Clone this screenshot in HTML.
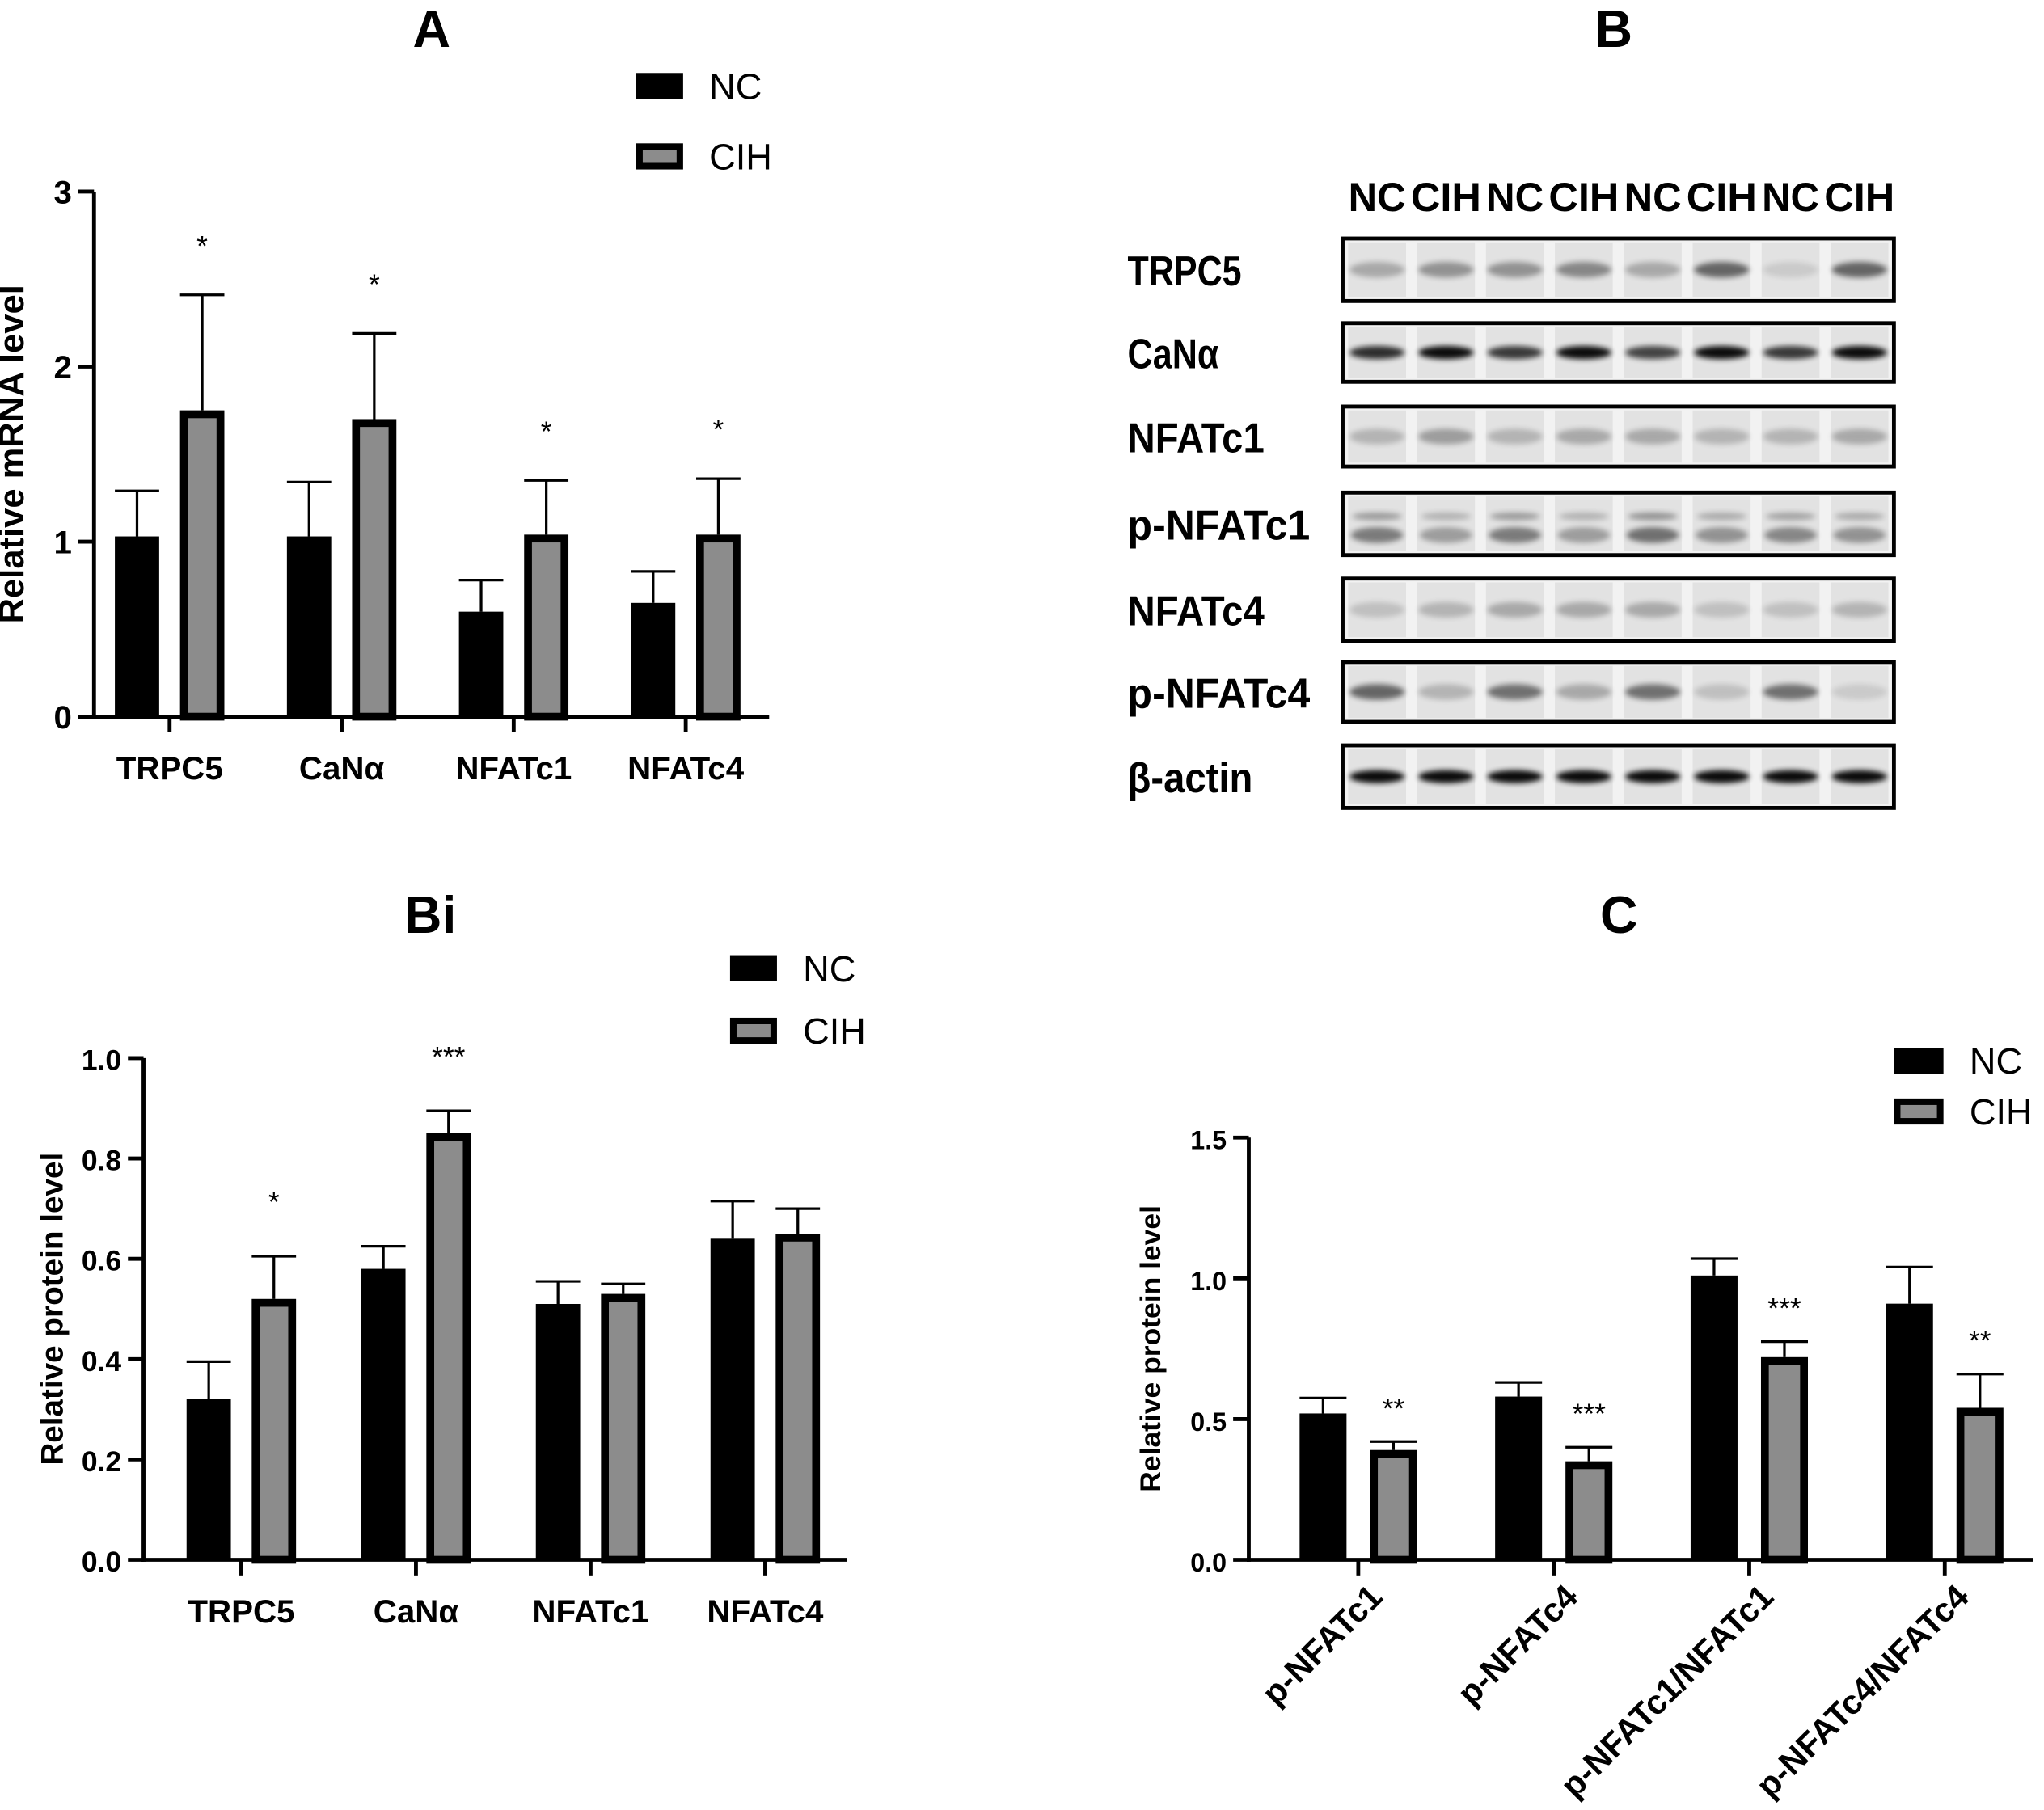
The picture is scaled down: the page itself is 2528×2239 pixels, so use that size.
<!DOCTYPE html>
<html><head><meta charset="utf-8">
<style>
html,body{margin:0;padding:0;background:#fff;}
svg{display:block;font-family:"Liberation Sans","Noto Sans CJK SC",sans-serif;}
</style></head>
<body>
<svg id="fig" width="2528" height="2239" viewBox="0 0 1568 1389" xmlns="http://www.w3.org/2000/svg">
<defs><filter id="blur" x="-20%" y="-50%" width="140%" height="200%"><feGaussianBlur stdDeviation="2.2"/></filter></defs>
<g id="pA"></g>
<g id="pB"></g>
<g id="pBi"></g>
<g id="pC"></g>
</svg>
<script>
// ---- Panel A data ----
const aCategories = ["TRPC5","CaNα","NFATc1","NFATc4"];
const aNC = [1.03, 1.03, 0.60, 0.65];
const aNCerr = [0.26, 0.31, 0.18, 0.18];
const aCIH = [1.75, 1.70, 1.04, 1.04];
const aCIHerr = [0.66, 0.49, 0.31, 0.32];
const aSig = ["*","*","*","*"];
const aTicks = [0,1,2,3];
// ---- Panel Bi data ----
const biCategories = ["TRPC5","CaNα","NFATc1","NFATc4"];
const biNC = [0.32, 0.58, 0.51, 0.64];
const biNCerr = [0.075, 0.045, 0.045, 0.075];
const biCIH = [0.52, 0.85, 0.53, 0.65];
const biCIHerr = [0.085, 0.045, 0.02, 0.05];
const biSig = ["*","***","",""];
const biTicks = [0,0.2,0.4,0.6,0.8,1.0];
// ---- Panel C data ----
const cCategories = ["p-NFATc1","p-NFATc4","p-NFATc1/NFATc1","p-NFATc4/NFATc4"];
const cNC = [0.52, 0.58, 1.01, 0.91];
const cNCerr = [0.055, 0.05, 0.06, 0.13];
const cCIH = [0.39, 0.35, 0.72, 0.54];
const cCIHerr = [0.03, 0.05, 0.055, 0.12];
const cSig = ["**","***","***","**"];
const cTicks = [0,0.5,1.0,1.5];

const NS="http://www.w3.org/2000/svg";
function mk(parent,tag,attrs,text){const e=document.createElementNS(NS,tag);for(const k in attrs)e.setAttribute(k,attrs[k]);if(text!==undefined)e.textContent=text;parent.appendChild(e);return e;}

function chart(g,o){
  const y=v=>o.y0-(v-o.vmin)/(o.vmax-o.vmin)*(o.y0-o.ytop);
  const t=mk(g,'text',{x:o.titleX,y:o.titleY,'font-size':40,'font-weight':'bold','text-anchor':'middle'},o.title);
  
  
  o.cats.forEach((c,i)=>{
    const cx=o.cx0+i*o.step;
    const pairs=[[o.nc,o.ncErr,cx-o.off,'nc'],[o.cih,o.cihErr,cx+o.off,'cih']];
    pairs.forEach(([vals,errs,bx,s])=>{
      const v=vals[i],top=y(v),eTop=y(v+errs[i]);
      const ln=mk(g,'line',{x1:bx,x2:bx,y1:top,y2:eTop,stroke:'#000','stroke-width':2});
      
      
      const cap=mk(g,'line',{x1:bx-o.cap,x2:bx+o.cap,y1:eTop,y2:eTop,stroke:'#000','stroke-width':2});
      
      
      let r;
      if(s==='nc'){r=mk(g,'rect',{x:bx-o.bw/2,y:top,width:o.bw,height:o.y0-top,fill:'#000'});}
      else{r=mk(g,'rect',{x:bx-o.bw/2+3,y:top+3,width:o.bw-6,height:o.y0-top-3,fill:'#8c8c8c',stroke:'#000','stroke-width':6});}
      
      
    });
    if(o.sig[i]){
      const sx=cx+o.off, sy=y(o.cih[i]+o.cihErr[i])-o.sigGap;
      const st=mk(g,'text',{x:sx,y:sy,'font-size':22,'text-anchor':'middle'},o.sig[i]);
      
      
    }
    const tk=mk(g,'line',{x1:cx,x2:cx,y1:o.y0,y2:o.y0+12,stroke:'#000','stroke-width':3});
    
    
    let lbl;
    if(o.rot){
      lbl=mk(g,'text',{x:cx+20,y:o.y0+30,'font-size':26,'font-weight':'bold','text-anchor':'end',transform:`rotate(-45 ${cx+20} ${o.y0+30})`},c);
    } else {
      lbl=mk(g,'text',{x:cx,y:o.y0+48,'font-size':25,'font-weight':'bold','text-anchor':'middle'},c);
    }
    
    
  });
  const ya=mk(g,'line',{x1:o.x0,x2:o.x0,y1:o.ytop,y2:o.y0+1.5,stroke:'#000','stroke-width':3});
  
  
  const xa=mk(g,'line',{x1:o.x0-1.5,x2:o.xend,y1:o.y0,y2:o.y0,stroke:'#000','stroke-width':3});
  
  
  o.ticks.forEach(v=>{
    const ty=y(v);
    const l=mk(g,'line',{x1:o.x0-12,x2:o.x0,y1:ty,y2:ty,stroke:'#000','stroke-width':3});
    
    
    const tl=mk(g,'text',{x:o.x0-17,y:ty+9,'font-size':o.tickFs,'font-weight':'bold','text-anchor':'end'},v.toFixed(o.dec));
    
    
  });
  const yl=mk(g,'text',{x:o.ylX,y:(o.y0+o.ytop)/2,'font-size':o.ylFs,'font-weight':'bold','text-anchor':'middle',transform:`rotate(-90 ${o.ylX} ${(o.y0+o.ytop)/2})`},o.ylabel);
  
  
  const lg=mk(g,'g',{});
  
  
  const r1=mk(lg,'rect',{x:o.lgX,y:o.lgY,width:o.lgW,height:20,fill:'#000'});
  
  
  const t1=mk(lg,'text',{x:o.lgX+o.lgW+20,y:o.lgY+20,'font-size':28},'NC');
  
  
  const r2=mk(lg,'rect',{x:o.lgX+2.5,y:o.lgY+o.lgGap+2.5,width:o.lgW-5,height:15,fill:'#8c8c8c',stroke:'#000','stroke-width':5});
  
  
  const t2=mk(lg,'text',{x:o.lgX+o.lgW+20,y:o.lgY+o.lgGap+20,'font-size':28},'CIH');
  
  
}

chart(document.getElementById('pA'),{title:'A',titleX:331,titleY:36,cats:aCategories,nc:aNC,ncErr:aNCerr,cih:aCIH,cihErr:aCIHerr,sig:aSig,ticks:aTicks,dec:0,
  vmin:0,vmax:3,y0:550,ytop:147,x0:72,xend:590,cx0:130,step:132,off:25,bw:34,cap:17,sigGap:30,tickFs:25,
  ylabel:'Relative mRNA level',ylX:18,ylFs:27,lgX:488,lgY:56,lgW:36,lgGap:54});
chart(document.getElementById('pBi'),{title:'Bi',titleX:330,titleY:716,cats:biCategories,nc:biNC,ncErr:biNCerr,cih:biCIH,cihErr:biCIHerr,sig:biSig,ticks:biTicks,dec:1,
  vmin:0,vmax:1,y0:1197,ytop:812,x0:110,xend:650,cx0:185,step:134,off:25,bw:34,cap:17,sigGap:34,tickFs:22,
  ylabel:'Relative protein level',ylX:48,ylFs:24,lgX:560,lgY:733,lgW:36,lgGap:48});
chart(document.getElementById('pC'),{title:'C',titleX:1242,titleY:716,cats:cCategories,nc:cNC,ncErr:cNCerr,cih:cCIH,cihErr:cCIHerr,sig:cSig,ticks:cTicks,dec:1,rot:true,
  vmin:0,vmax:1.5,y0:1197,ytop:873,x0:958,xend:1560,cx0:1042,step:150,off:27,bw:36,cap:18,sigGap:18,tickFs:20,
  ylabel:'Relative protein level',ylX:890,ylFs:22,lgX:1453,lgY:804,lgW:38,lgGap:39});

// ---- Panel B: western blot ----
const lanes=["NC","CIH","NC","CIH","NC","CIH","NC","CIH"];
const blotRows=["TRPC5","CaNα","NFATc1","p-NFATc1","NFATc4","p-NFATc4","β-actin"];
const bandIntensity=[
 [0.25,0.35,0.35,0.4,0.25,0.55,0.1,0.55],
 [0.8,0.95,0.75,0.95,0.7,0.95,0.75,0.95],
 [0.2,0.3,0.2,0.25,0.25,0.2,0.2,0.25],
 [0.45,0.3,0.45,0.3,0.5,0.35,0.4,0.35],
 [0.15,0.2,0.25,0.25,0.25,0.15,0.15,0.2],
 [0.55,0.2,0.5,0.25,0.5,0.15,0.5,0.1],
 [0.95,0.95,0.95,0.95,0.95,0.95,0.95,0.95]];
(function(){
  const g=document.getElementById('pB');
  const t=mk(g,'text',{x:1238,y:36,'font-size':40,'font-weight':'bold','text-anchor':'middle'},'B');
  
  
  const bx0=1030,bx1=1453,lw=(bx1-bx0)/8;
  lanes.forEach((l,i)=>{
    const lt=mk(g,'text',{x:bx0+lw*(i+0.5),y:162,'font-size':31,'font-weight':'bold','text-anchor':'middle',textLength:l.length>2?54:44,lengthAdjust:'spacingAndGlyphs'},l);
    
    
  });
  const rowY=[183,248,312,378,444,508,572],rowH=[48,45,46,48,48,46,48];
  blotRows.forEach((name,r)=>{
    const y=rowY[r],h=rowH[r];
    const rg=mk(g,'g',{});
    
    
    mk(rg,'rect',{x:bx0,y:y,width:bx1-bx0,height:h,fill:'#f2f2f2'});
    lanes.forEach((l,i)=>{
      const cx=bx0+lw*(i+0.5);
      mk(rg,'rect',{x:cx-lw*0.42,y:y+3,width:lw*0.84,height:h-6,fill:'#e2e2e2'});
      const a=bandIntensity[r][i];
      if(r===3){
        mk(rg,'ellipse',{cx:cx,cy:y+h*0.38,rx:lw*0.36,ry:3,fill:'#000',opacity:a*0.7,filter:'url(#blur)'});
        mk(rg,'ellipse',{cx:cx,cy:y+h*0.68,rx:lw*0.38,ry:6,fill:'#000',opacity:a,filter:'url(#blur)'});
      } else {
        mk(rg,'ellipse',{cx:cx,cy:y+h*0.5,rx:lw*0.4,ry:r===1||r===6?5:6,fill:'#000',opacity:a,filter:'url(#blur)'});
      }
    });
    mk(rg,'rect',{x:bx0,y:y,width:bx1-bx0,height:h,fill:'none',stroke:'#000','stroke-width':3});
    const lb=mk(g,'text',{x:865,y:y+h/2+12,'font-size':32,'font-weight':'bold',textLength:name==='β-actin'?96:name.length*17.5,lengthAdjust:'spacingAndGlyphs'},name);
    
    
  });
})();
</script>
</body></html>
